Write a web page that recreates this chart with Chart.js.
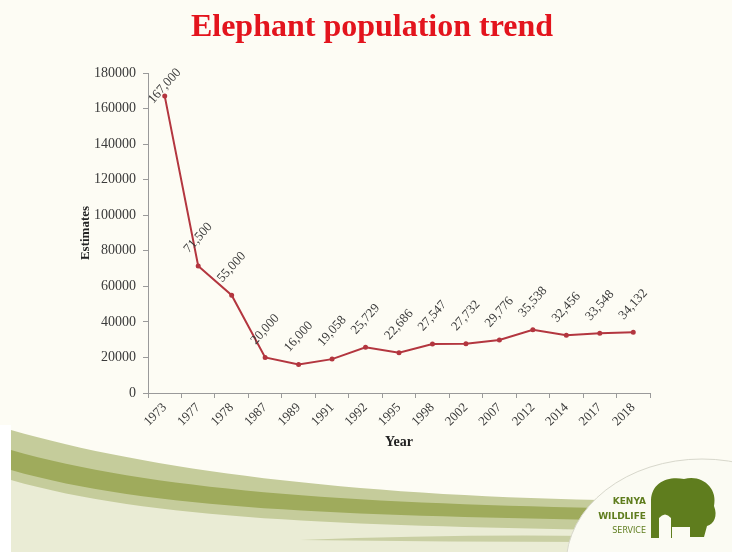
<!DOCTYPE html>
<html>
<head>
<meta charset="utf-8">
<title>Elephant population trend</title>
<script src="https://cdn.jsdelivr.net/npm/chart.js@4/dist/chart.umd.min.js"></script>
<style>
    body { margin: 0; background: #fdfcf4; }
    #chart { display: block; }
</style>
</head>
<body>
<canvas id="chart" width="732" height="552"></canvas>
<script>
// Kenya Wildlife Service elephant estimates
const years = ['1973', '1977', '1978', '1987', '1989', '1991', '1992', '1995',
    '1998', '2002', '2007', '2012', '2014', '2017', '2018'];
const estimates = [167000, 71500, 55000, 20000, 16000, 19058, 25729, 22686,
    27547, 27732, 29776, 35538, 32456, 33548, 34132];
const estimateLabels = ['167,000', '71,500', '55,000', '20,000', '16,000', '19,058', '25,729', '22,686',
    '27,547', '27,732', '29,776', '35,538', '32,456', '33,548', '34,132'];
const chartTitle = 'Elephant population trend';

const serif = '"Liberation Serif", "Times New Roman", serif';

// slide background + green swoosh + logo + slide title
const slideBackground = {
    id: 'slideBackground',
    beforeDraw(chart) {
        const ctx = chart.ctx;
        ctx.save();
        ctx.fillStyle = '#fdfcf4';
        ctx.fillRect(0, 0, chart.width, chart.height);

        // slide title (slightly right of canvas centre, as on the slide)
        ctx.fillStyle = '#e3141d';
        ctx.font = 'bold 32px ' + serif;
        ctx.textAlign = 'center';
        ctx.textBaseline = 'alphabetic';
        ctx.fillText(chartTitle, 372, 36);

        // pale ground under the swoosh
        ctx.fillStyle = '#eaecd5';
        ctx.beginPath();
        ctx.moveTo(11, 470);
        ctx.bezierCurveTo(150, 500, 350, 512, 600, 520);
        ctx.lineTo(600, 552);
        ctx.lineTo(11, 552);
        ctx.closePath();
        ctx.fill();

        function band(y0a, y0b, y1a, y1b, color) {
            ctx.fillStyle = color;
            ctx.beginPath();
            ctx.moveTo(11, y0a);
            ctx.bezierCurveTo(150, y0a + 40, 350, y1a - 5, 600, y1a);
            ctx.lineTo(600, y1b);
            ctx.bezierCurveTo(350, y1b - 5, 150, y0b + 40, 11, y0b);
            ctx.closePath();
            ctx.fill();
        }
        band(430, 480, 500, 530, '#c5cc9b');
        band(450, 470, 508, 520, '#9fab5c');
        ctx.fillStyle = '#c9cfa3';
        ctx.beginPath();
        ctx.moveTo(300, 540);
        ctx.quadraticCurveTo(450, 534, 600, 536);
        ctx.lineTo(600, 542);
        ctx.quadraticCurveTo(450, 542, 300, 540);
        ctx.fill();

        // white strip on the far left, below the slide
        ctx.fillStyle = '#ffffff';
        ctx.fillRect(0, 425, 11, 127);

        // logo disc
        ctx.fillStyle = '#fbfbf3';
        ctx.strokeStyle = '#d8d8cc';
        ctx.lineWidth = 1;
        ctx.beginPath();
        ctx.ellipse(702, 565, 136, 106, 0, 0, Math.PI * 2);
        ctx.fill();
        ctx.stroke();

        ctx.fillStyle = '#5f7d1e';
        ctx.font = 'bold 9px "DejaVu Sans", sans-serif';
        ctx.textAlign = 'right';
        ctx.textBaseline = 'middle';
        ctx.fillText('KENYA', 646, 502);
        ctx.fillText('WILDLIFE', 646, 517);
        ctx.font = '8px "DejaVu Sans", sans-serif';
        ctx.fillText('SERVICE', 646, 531);

        // elephant silhouette
        ctx.beginPath();
        ctx.moveTo(651, 538);
        ctx.lineTo(651, 500);
        ctx.bezierCurveTo(652, 482, 668, 476, 684, 479);
        ctx.bezierCurveTo(702, 474, 718, 488, 714, 506);
        ctx.bezierCurveTo(718, 516, 714, 524, 707, 526);
        ctx.lineTo(704, 537);
        ctx.lineTo(690, 537);
        ctx.lineTo(690, 527);
        ctx.lineTo(672, 527);
        ctx.lineTo(672, 538);
        ctx.closePath();
        ctx.fill();
        ctx.fillStyle = '#fbfbf3';
        ctx.beginPath();
        ctx.moveTo(659, 538);
        ctx.lineTo(659, 518);
        ctx.quadraticCurveTo(665, 511, 671, 518);
        ctx.lineTo(671, 538);
        ctx.closePath();
        ctx.fill();
        ctx.restore();
    }
};

// rotated value labels above each point
const valueLabels = {
    id: 'valueLabels',
    afterDatasetsDraw(chart) {
        const ctx = chart.ctx;
        const meta = chart.getDatasetMeta(0);
        const top = chart.chartArea.top;
        ctx.save();
        ctx.fillStyle = '#3a3a3a';
        ctx.font = '13px ' + serif;
        ctx.textAlign = 'center';
        ctx.textBaseline = 'middle';
        meta.data.forEach((pt, i) => {
            const y = Math.max(pt.y - 28, top + 13);
            ctx.save();
            ctx.translate(pt.x, y);
            ctx.rotate(-48 * Math.PI / 180);
            ctx.fillText(estimateLabels[i], 0, 0);
            ctx.restore();
        });
        ctx.restore();
    }
};

new Chart(document.getElementById('chart'), {
    type: 'line',
    data: {
        labels: years,
        datasets: [{
            label: 'Estimates',
            data: estimates,
            borderColor: '#b3363f',
            backgroundColor: '#b3363f',
            borderWidth: 2,
            pointRadius: 1.5,
            pointHoverRadius: 1.5,
            tension: 0
        }]
    },
    options: {
        responsive: false,
        animation: false,
        layout: {
            padding: { left: 76, right: 82, top: 73, bottom: 99 }
        },
        plugins: {
            legend: { display: false },
            tooltip: { enabled: false },
            title: { display: false }
        },
        scales: {
            x: {
                offset: true,
                grid: {
                    offset: true,
                    drawOnChartArea: false,
                    drawTicks: true,
                    tickLength: 5,
                    color: '#9a9a9a'
                },
                border: { color: '#9a9a9a', width: 1 },
                ticks: {
                    color: '#3a3a3a',
                    font: { family: serif, size: 13 },
                    maxRotation: 45,
                    minRotation: 45,
                    padding: 2,
                    autoSkip: false
                },
                title: {
                    display: true,
                    text: 'Year',
                    color: '#222',
                    font: { family: serif, size: 14, weight: 'bold' },
                    padding: { top: 0, bottom: 2 }
                },
                afterFit(scale) { scale.height = 60; }
            },
            y: {
                min: 0,
                max: 180000,
                grid: {
                    drawOnChartArea: false,
                    drawTicks: true,
                    tickLength: 5,
                    color: '#9a9a9a'
                },
                border: { color: '#9a9a9a', width: 1 },
                ticks: {
                    stepSize: 20000,
                    color: '#3a3a3a',
                    font: { family: serif, size: 14 },
                    padding: 7,
                    callback: v => String(v)
                },
                title: {
                    display: true,
                    text: 'Estimates',
                    color: '#222',
                    font: { family: serif, size: 13, weight: 'bold' },
                    padding: { top: 2, bottom: 0 }
                },
                afterFit(scale) { scale.width = 72; }
            }
        }
    },
    plugins: [slideBackground, valueLabels]
});
</script>
</body>
</html>
